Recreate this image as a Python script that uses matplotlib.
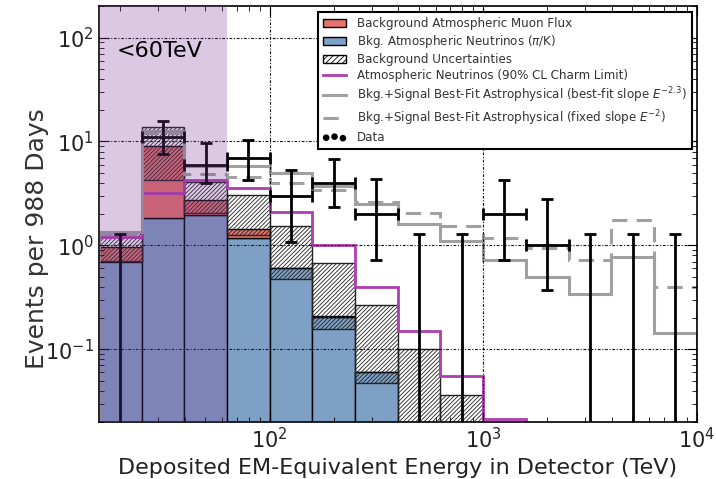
import matplotlib
matplotlib.use("Agg")
import matplotlib.pyplot as plt
import numpy as np
from matplotlib.patches import Patch
from matplotlib.lines import Line2D
from matplotlib.ticker import LogLocator, NullFormatter

# log10 energy bin edges (TeV), 0.2 decade bins
log_edges = [1.2, 1.4, 1.6, 1.8, 2.0, 2.2, 2.4, 2.6, 2.8, 3.0, 3.2, 3.4, 3.6, 3.8, 4.0]

# background expectations per bin
atm_nu = [0.70, 1.82, 1.95, 1.18, 0.60, 0.206, 0.060, 0.015, 0.004, 0.001, 0.001, 0.001, 0.001, 0.001]
atm_mu = [0.26, 7.2, 0.78, 0.27, 0.01, 0.004, 0.0, 0.0, 0.0, 0.0, 0.0, 0.0, 0.0, 0.0]
unc_lo = [0.71, 4.3, 2.04, 1.25, 0.475, 0.156, 0.047, 0.012, 0.003, 0.001, 0.001, 0.001, 0.001, 0.001]
unc_hi = [1.32, 13.7, 4.1, 3.05, 1.53, 0.67, 0.267, 0.10, 0.036, 0.001, 0.001, 0.001, 0.001, 0.001]
charm = [1.2, 3.2, 4.27, 3.55, 2.1, 1.0, 0.40, 0.149, 0.056, 0.0216, 0.005, 0.005, 0.005, 0.005]
fit_best = [1.35, 12.5, 5.8, 5.75, 5.0, 3.7, 2.5, 1.62, 1.10, 0.73, 0.50, 0.34, 0.78, 0.144]
fit_e2 = [1.3, 12.0, 4.9, 4.6, 4.0, 3.4, 2.6, 2.03, 1.53, 1.19, 0.95, 0.73, 1.75, 0.40]

# observed events with 68% intervals
counts = [0, 11, 6, 7, 3, 4, 2, 0, 0, 2, 1, 0, 0, 0]
err_lo = [0, 7.6, 3.95, 4.3, 1.08, 2.36, 0.73, 0, 0, 0.73, 0.37, 0, 0, 0]
err_hi = [1.29, 15.6, 9.7, 10.4, 5.34, 6.8, 4.35, 1.29, 1.29, 4.27, 2.77, 1.29, 1.29, 1.29]

edges = 10 ** np.array(log_edges)
left = edges[:-1]
width = np.diff(edges)
centers = 10 ** ((np.array(log_edges[:-1]) + np.array(log_edges[1:])) / 2)
atm_nu = np.array(atm_nu)
atm_mu = np.array(atm_mu)
unc_lo = np.array(unc_lo)
unc_hi = np.array(unc_hi)
counts = np.array(counts, dtype=float)
err_lo = np.array(err_lo)
err_hi = np.array(err_hi)

plt.rcParams['hatch.linewidth'] = 0.6
fig = plt.figure(figsize=(7.16, 4.79), dpi=100)
ax = fig.add_axes([0.138, 0.119, 0.835, 0.868])

blue = '#7ea0c4'
red = '#e5736b'
ax.bar(left, atm_nu, width=width, bottom=1e-4, align='edge', color=blue,
       edgecolor='k', lw=1.0, zorder=1)
ax.bar(left, atm_mu, width=width, bottom=atm_nu, align='edge', color=red,
       edgecolor='k', lw=1.0, zorder=1.1)
ax.bar(left, unc_hi - unc_lo, width=width, bottom=unc_lo, align='edge', fill=False,
       hatch='////////', edgecolor='#222222', lw=1.0, zorder=1.2)

dash = (0, (5, 3))
ax.stairs(charm, edges, color='#b03cb0', lw=2.0, zorder=2)
ax.stairs(fit_best, edges, color='#a0a0a0', lw=2.2, zorder=2)
ax.stairs(fit_e2, edges, color='#a0a0a0', lw=2.2, ls=dash, zorder=2)

# bins with events
has = counts > 0
ax.errorbar(centers[has], counts[has],
            xerr=[centers[has] - left[has], edges[1:][has] - centers[has]],
            yerr=[counts[has] - err_lo[has], err_hi[has] - counts[has]],
            fmt='none', ecolor='k', elinewidth=2.0, capsize=4, capthick=2.0, zorder=3)
# empty bins: upper limits only
ax.errorbar(centers[~has], err_hi[~has], yerr=[err_hi[~has] - 0.005, np.zeros((~has).sum())],
            fmt='none', ecolor='k', elinewidth=2.0, capsize=4, capthick=2.0, zorder=3)

ax.axvspan(edges[0], edges[3], color='#7a3a98', alpha=0.27, lw=0, zorder=4)
ax.text(19.3, 74, '<60TeV', fontsize=16, va='center', ha='left', zorder=5)

ax.set_xscale('log')
ax.set_yscale('log')
ax.set_xlim(edges[0], edges[-1])
ax.set_ylim(0.02, 200)
for axis in (ax.xaxis, ax.yaxis):
    axis.set_minor_locator(LogLocator(base=10, subs=np.arange(2, 10), numticks=20))
    axis.set_minor_formatter(NullFormatter())
ax.set_axisbelow(False)
ax.grid(True, which='major', color='#111111', ls=(0, (2.5, 1.5, 1, 1.5)), lw=0.8)
ax.tick_params(which='both', direction='in', top=True, right=True, labelsize=15,
               labelcolor='#222222')
ax.tick_params(which='major', length=7)
ax.tick_params(which='minor', length=3.5)
for s in ax.spines.values():
    s.set_linewidth(1.2)

ax.set_xlabel('Deposited EM-Equivalent Energy in Detector (TeV)', fontsize=16, color='#222222')
ax.set_ylabel('Events per 988 Days', fontsize=18, color='#333333')
ax.yaxis.set_label_coords(-0.084, 0.44)

handles = [
    Patch(facecolor=red, edgecolor='k', lw=1.0),
    Patch(facecolor=blue, edgecolor='k', lw=1.0),
    Patch(facecolor='white', edgecolor='k', hatch='//////', lw=1.0),
    Line2D([], [], color='#b03cb0', lw=2.0),
    Line2D([], [], color='#a0a0a0', lw=2.2),
    Line2D([], [], color='#a0a0a0', lw=2.2, ls=dash),
    ax.scatter([], [], c='k', s=14),
]
labels = [
    'Background Atmospheric Muon Flux',
    r'Bkg. Atmospheric Neutrinos ($\pi$/K)',
    'Background Uncertainties',
    'Atmospheric Neutrinos (90% CL Charm Limit)',
    r'Bkg.+Signal Best-Fit Astrophysical (best-fit slope $E^{-2.3}$)',
    r'Bkg.+Signal Best-Fit Astrophysical (fixed slope $E^{-2}$)',
    'Data',
]
leg = ax.legend(handles, labels, loc='upper right', bbox_to_anchor=(0.9916, 0.9856),
                borderaxespad=0, fontsize=8.6, labelspacing=0.26, fancybox=False,
                framealpha=1, edgecolor='k', scatterpoints=3, handlelength=2.0,
                handletextpad=0.9, borderpad=0.4)
leg.get_frame().set_linewidth(1.5)
leg.set_zorder(10)
for t in leg.get_texts():
    t.set_color('#333333')

fig.savefig('out.png', dpi=100)
